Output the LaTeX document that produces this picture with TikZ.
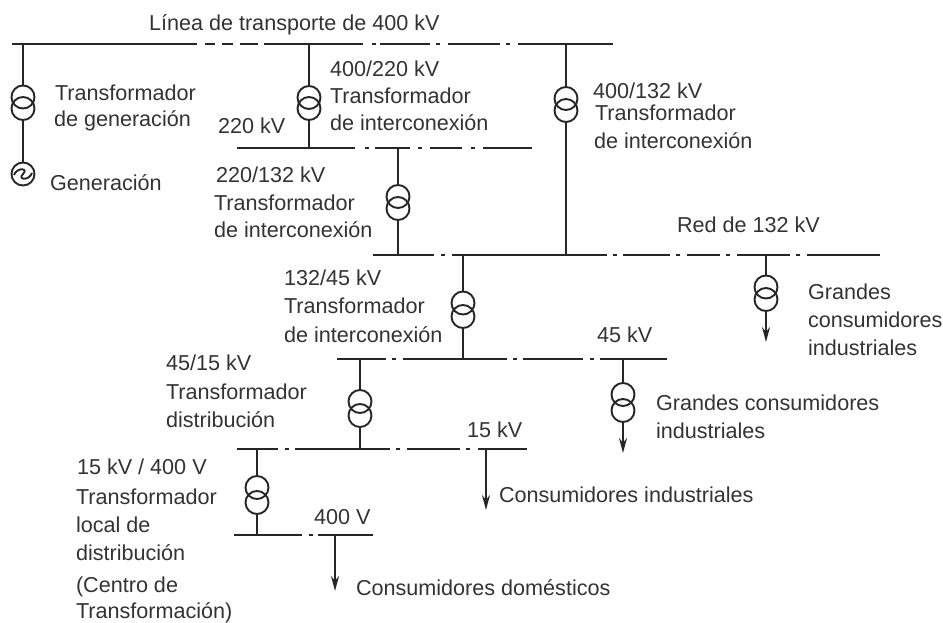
\documentclass[tikz,border=0pt]{standalone}
\usepackage{fontspec}
\setmainfont{Liberation Sans}
\usetikzlibrary{arrows.meta}
\tikzset{
  busbar/.style={line width=2.2pt,black!85},
  feeder/.style={line width=1.9pt,black!85},
  feedarrow/.style={feeder,-{Stealth[length=15pt,width=8pt]}},
  winding/.style={circle,draw=black!85,line width=1.9pt,minimum size=23pt,inner sep=0pt,outer sep=0pt},
  lbl/.style={anchor=base west,inner sep=0pt,outer sep=0pt,font=\fontsize{21.6}{26}\selectfont,text=black!80},
}
\begin{document}
\begin{tikzpicture}[x=1pt,y=-1pt]
\useasboundingbox (0,0) rectangle (943,622);
% bus bars
\foreach \a/\b in {12/197,205/215,222/233,240/258,264/363,372/376,380/430,436/440,448/500,506/510,518/613}
  \draw[busbar] (\a,44) -- (\b,44);
\foreach \a/\b in {237/355,365/369,375/410,418/422,430/462,471/475,483/532}
  \draw[busbar] (\a,148) -- (\b,148);
\foreach \a/\b in {373/434,441/445,452/607,613/617,623/670,676/680,687/720,726/730,737/790,796/800,807/880}
  \draw[busbar] (\a,255) -- (\b,255);
\foreach \a/\b in {337/386,392/396,403/507,513/517,523/583,590/594,600/667}
  \draw[busbar] (\a,359) -- (\b,359);
\foreach \a/\b in {237/278,285/289,295/390,396/400,407/460,466/470,478/527}
  \draw[busbar] (\a,449) -- (\b,449);
\foreach \a/\b in {234/302,309/313,318/373}
  \draw[busbar] (\a,535) -- (\b,535);
% tap points
\coordinate (a1) at (23,44);
\coordinate (a2) at (309,44);
\coordinate (a4) at (566,44);
\coordinate (c2) at (309,148);
\coordinate (c3) at (398,148);
\coordinate (d3) at (398,255);
\coordinate (d4) at (566,255);
\coordinate (d5) at (463,255);
\coordinate (d6) at (766,255);
\coordinate (e5) at (463,359);
\coordinate (e7) at (623,359);
\coordinate (e8) at (360,359);
\coordinate (f8) at (360,449);
\coordinate (f9) at (257,449);
\coordinate (f10) at (486,449);
\coordinate (g9) at (257,535);
\coordinate (g10) at (335,535);
\coordinate (x6) at (766,342);
\coordinate (x7) at (623,453);
\coordinate (x10) at (486,510);
\coordinate (x11) at (335,591);
% transformers
\node[winding] (t1u) at (23,97) {};   \node[winding] (t1l) at (23,108.5) {};
\node[winding] (t2u) at (309,97.5) {};\node[winding] (t2l) at (309,108.5) {};
\node[winding] (t3u) at (398,196.5) {};\node[winding] (t3l) at (398,208.5) {};
\node[winding] (t4u) at (566,98.5) {};\node[winding] (t4l) at (566,110.5) {};
\node[winding] (t5u) at (463,303) {}; \node[winding] (t5l) at (463,316.5) {};
\node[winding] (t6u) at (766,287) {}; \node[winding] (t6l) at (766,299.5) {};
\node[winding] (t7u) at (623,394.5) {};\node[winding] (t7l) at (623,410.5) {};
\node[winding] (t8u) at (360,401.5) {};\node[winding] (t8l) at (360,415.5) {};
\node[winding] (t9u) at (257,487.5) {};\node[winding] (t9l) at (257,502.5) {};
\node[winding] (gen) at (23,174) {};
\draw[feeder] (gen.center)+(-9,1) .. controls +(3,-8) and +(6,-6) .. +(0,0) .. controls +(-6,6) and +(-3,8) .. +(9,-1);
% connectors
\draw[feeder] (a1) -- (t1u.north);
\draw[feeder] (t1l.south) -- (gen.north);
\draw[feeder] (a2) -- (t2u.north);
\draw[feeder] (t2l.south) -- (c2);
\draw[feeder] (c3) -- (t3u.north);
\draw[feeder] (t3l.south) -- (d3);
\draw[feeder] (a4) -- (t4u.north);
\draw[feeder] (t4l.south) -- (d4);
\draw[feeder] (d5) -- (t5u.north);
\draw[feeder] (t5l.south) -- (e5);
\draw[feeder] (d6) -- (t6u.north);
\draw[feedarrow] (t6l.south) -- (x6);
\draw[feeder] (e7) -- (t7u.north);
\draw[feedarrow] (t7l.south) -- (x7);
\draw[feeder] (e8) -- (t8u.north);
\draw[feeder] (t8l.south) -- (f8);
\draw[feeder] (f9) -- (t9u.north);
\draw[feeder] (t9l.south) -- (g9);
\draw[feedarrow] (f10) -- (x10);
\draw[feedarrow] (g10) -- (x11);
% labels
\node[lbl] (n1) at (149,30) {Línea de transporte de 400 kV};
\node[lbl] (n2) at (55,100) {Transformador};
\node[lbl] (n3) at (54,126) {de generación};
\node[lbl] (n4) at (50,190) {Generación};
\node[lbl] (n5) at (330,76) {400/220 kV};
\node[lbl] (n6) at (330,103) {Transformador};
\node[lbl] (n7) at (330,130) {de interconexión};
\node[lbl] (n8) at (218,133) {220 kV};
\node[lbl] (n9) at (216,182) {220/132 kV};
\node[lbl] (n10) at (214,210) {Transformador};
\node[lbl] (n11) at (214,237) {de interconexión};
\node[lbl] (n12) at (593,98) {400/132 kV};
\node[lbl] (n13) at (595,120) {Transformador};
\node[lbl] (n14) at (594,148) {de interconexión};
\node[lbl] (n15) at (677,232) {Red de 132 kV};
\node[lbl] (n16) at (284,285) {132/45 kV};
\node[lbl] (n17) at (284,313) {Transformador};
\node[lbl] (n18) at (284,342) {de interconexión};
\node[lbl] (n19) at (597,342) {45 kV};
\node[lbl] (n20) at (808,299) {Grandes};
\node[lbl] (n21) at (808,327) {consumidores};
\node[lbl] (n22) at (808,355) {industriales};
\node[lbl] (n23) at (656,410) {Grandes consumidores};
\node[lbl] (n24) at (656,438) {industriales};
\node[lbl] (n25) at (467,437) {15 kV};
\node[lbl] (n26) at (166,370) {45/15 kV};
\node[lbl] (n27) at (166,399) {Transformador};
\node[lbl] (n28) at (166,427) {distribución};
\node[lbl] (n29) at (77,474) {15 kV / 400 V};
\node[lbl] (n30) at (76,504) {Transformador};
\node[lbl] (n31) at (76,532) {local de};
\node[lbl] (n32) at (76,560) {distribución};
\node[lbl] (n33) at (76,592) {(Centro de};
\node[lbl] (n34) at (76,618) {Transformación)};
\node[lbl] (n35) at (314,524) {400 V};
\node[lbl] (n36) at (499,502) {Consumidores industriales};
\node[lbl] (n37) at (356,595) {Consumidores domésticos};
\end{tikzpicture}
\end{document}
